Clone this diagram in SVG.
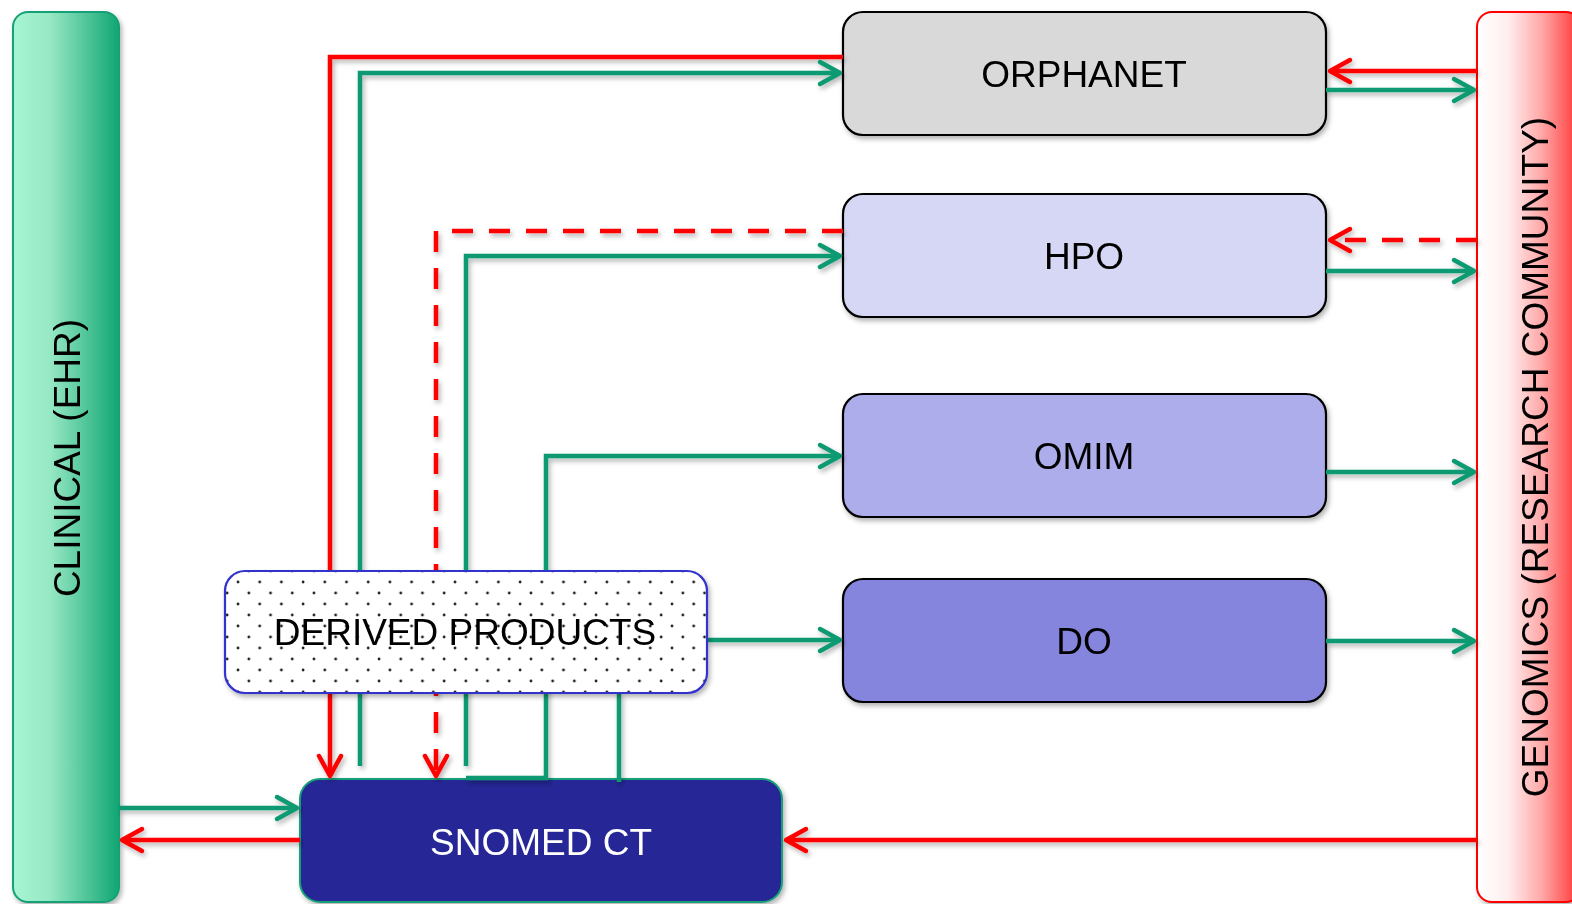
<svg xmlns="http://www.w3.org/2000/svg" width="1572" height="904" viewBox="0 0 1572 904">
<defs>
<style>
.lbl{font-family:"Liberation Sans",Arial,sans-serif;font-size:37px;fill:#000;text-anchor:middle}
.box{stroke:#000;stroke-width:2.2}
.g{fill:none;stroke:#0a9a72;stroke-width:4.5}
.r{fill:none;stroke:#ff0000;stroke-width:4.5}
.d{stroke-dasharray:21 16}
</style>
<linearGradient id="gl" x1="0" y1="0" x2="1" y2="0">
<stop offset="0" stop-color="#a6f5d3"/>
<stop offset="0.35" stop-color="#97e8c4"/>
<stop offset="1" stop-color="#10a673"/>
</linearGradient>
<linearGradient id="gr" x1="0" y1="0" x2="1" y2="0">
<stop offset="0" stop-color="#ffffff"/>
<stop offset="0.3" stop-color="#ffeeee"/>
<stop offset="0.62" stop-color="#ffa8a8"/>
<stop offset="0.95" stop-color="#ff4040"/>
</linearGradient>
<pattern id="dots" patternUnits="userSpaceOnUse" x="233" y="577" width="21.7" height="22">
<circle cx="5" cy="5" r="1.4" fill="#222"/>
<circle cx="15.85" cy="16" r="1.4" fill="#222"/>
</pattern>
<filter id="sh" x="-10%" y="-10%" width="120%" height="130%">
<feDropShadow dx="2" dy="3" stdDeviation="2.5" flood-color="#000" flood-opacity="0.3"/>
</filter>
<marker id="ag" markerUnits="userSpaceOnUse" markerWidth="32" markerHeight="32" viewBox="-28 -16 32 32" refX="0" refY="0" orient="auto">
<path d="M-20,-11 L0,0 L-20,11" fill="none" stroke="#0a9a72" stroke-width="4.5" stroke-linecap="round" stroke-linejoin="round"/>
</marker>
<marker id="ar" markerUnits="userSpaceOnUse" markerWidth="32" markerHeight="32" viewBox="-28 -16 32 32" refX="0" refY="0" orient="auto">
<path d="M-20,-11 L0,0 L-20,11" fill="none" stroke="#ff0000" stroke-width="4.5" stroke-linecap="round" stroke-linejoin="round"/>
</marker>
</defs>

<g id="clinical" filter="url(#sh)">
<rect x="13" y="12" width="106" height="890" rx="15" fill="url(#gl)" stroke="#17a078" stroke-width="2"/>
<text class="lbl" transform="translate(80,458) rotate(-90)">CLINICAL (EHR)</text>
</g>

<g id="genomics" filter="url(#sh)">
<rect x="1477" y="12" width="104" height="890" rx="15" fill="url(#gr)" stroke="#ff0000" stroke-width="2"/>
<text class="lbl" transform="translate(1548,457) rotate(-90)">GENOMICS (RESEARCH COMMUNITY)</text>
</g>

<g id="orphanet" filter="url(#sh)">
<rect class="box" x="843" y="12" width="483" height="123" rx="20" fill="#d9d9d9"/>
<text class="lbl" x="1084" y="87">ORPHANET</text>
</g>

<g id="hpo" filter="url(#sh)">
<rect class="box" x="843" y="194" width="483" height="123" rx="20" fill="#d5d7f4"/>
<text class="lbl" x="1084" y="269">HPO</text>
</g>

<g id="omim" filter="url(#sh)">
<rect class="box" x="843" y="394" width="483" height="123" rx="20" fill="#adadeb"/>
<text class="lbl" x="1084" y="469">OMIM</text>
</g>

<g id="do" filter="url(#sh)">
<rect class="box" x="843" y="579" width="483" height="123" rx="20" fill="#8585de"/>
<text class="lbl" x="1084" y="654">DO</text>
</g>

<g id="snomed" filter="url(#sh)">
<rect x="300" y="779" width="482" height="123" rx="20" fill="#262696" stroke="#17a078" stroke-width="2"/>
<text class="lbl" x="541" y="855" style="fill:#fff">SNOMED CT</text>
</g>

<g id="connectors" filter="url(#sh)">
<!-- ORPHANET -->
<path class="r" d="M843,57 H330 V776" marker-end="url(#ar)"/>
<path class="g" d="M360,766 V73 H840" marker-end="url(#ag)"/>
<path class="r" d="M1477,71 H1330" marker-end="url(#ar)"/>
<path class="g" d="M1326,90 H1474" marker-end="url(#ag)"/>
<!-- HPO -->
<path class="r d" d="M843,231 H436 V776" marker-end="url(#ar)"/>
<path class="g" d="M466,766 V256 H840" marker-end="url(#ag)"/>
<path class="r d" d="M1477,240 H1330" marker-end="url(#ar)"/>
<path class="g" d="M1326,271 H1474" marker-end="url(#ag)"/>
<!-- OMIM -->
<path class="g" d="M466,778 H546 V456 H840" marker-end="url(#ag)"/>
<path class="g" d="M1326,472 H1474" marker-end="url(#ag)"/>
<!-- DO -->
<path class="g" d="M707,640 H840" marker-end="url(#ag)"/>
<path class="g" d="M1326,641 H1474" marker-end="url(#ag)"/>
<!-- Derived to SNOMED -->
<path class="g" d="M619,693 V782"/>
<!-- SNOMED / clinical / genomics -->
<path class="g" d="M119,808 H297" marker-end="url(#ag)"/>
<path class="r" d="M300,840 H122" marker-end="url(#ar)"/>
<path class="r" d="M1477,840 H786" marker-end="url(#ar)"/>
</g>

<g id="derived" filter="url(#sh)">
<rect x="225" y="571" width="482" height="122" rx="20" fill="#fff"/>
<rect x="225" y="571" width="482" height="122" rx="20" fill="url(#dots)" stroke="#3333cc" stroke-width="2.2"/>
<text class="lbl" x="465" y="645">DERIVED PRODUCTS</text>
</g>
</svg>
